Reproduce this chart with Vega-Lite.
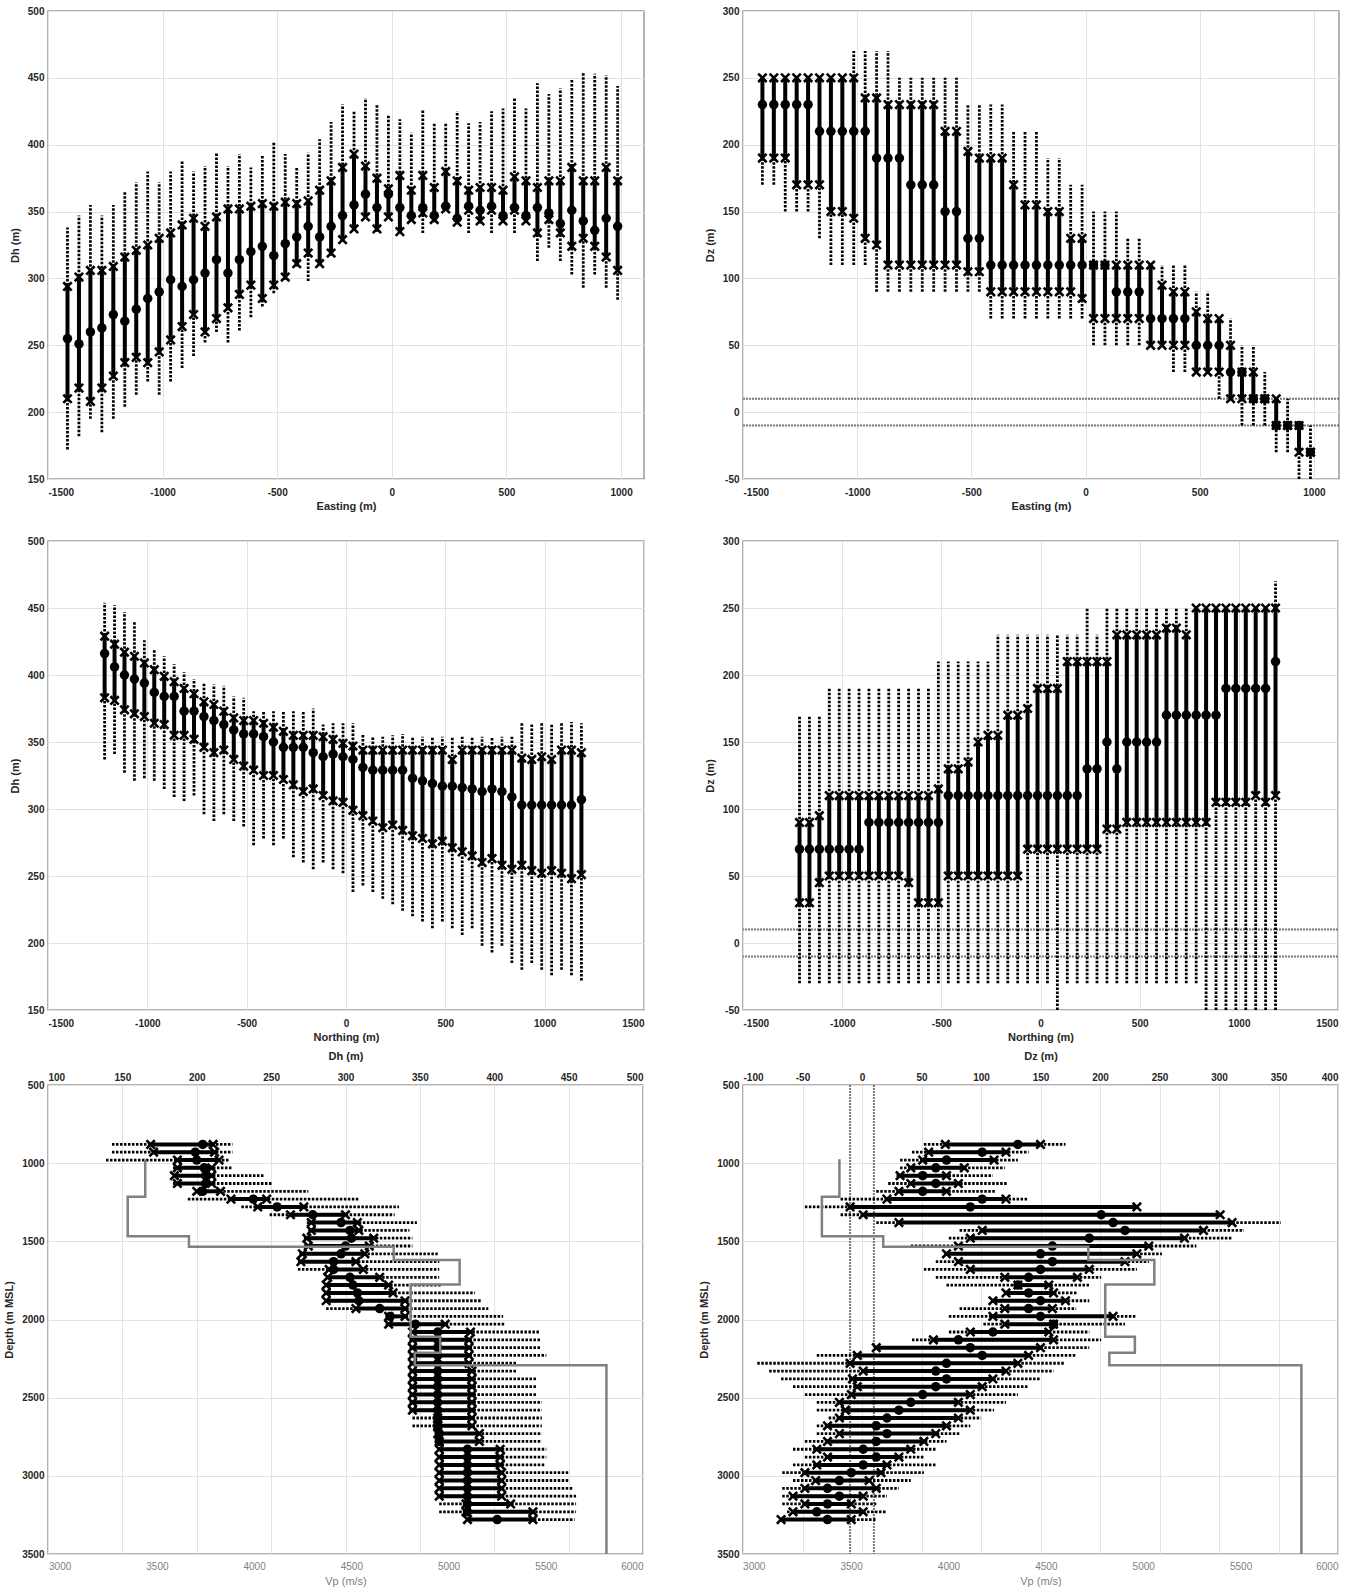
{
"$schema": "https://vega.github.io/schema/vega-lite/v6.json",
"autosize": {"type": "pad"},
"padding": {"left": 3, "top": 5, "right": 5, "bottom": 2},
"background": "white",
"config": {
  "font": "Liberation Sans",
  "view": {"stroke": "#999999", "strokeWidth": 1.5},
  "axis": {"labelFontSize": 10, "labelFontWeight": "bold", "labelColor": "#262626", "titleFontSize": 11, "titleFontWeight": "bold", "titleColor": "#262626", "grid": true, "gridColor": "#e2e2e2", "gridWidth": 1, "domain": false, "ticks": false, "labelExpr": "datum.value < 0 ? '-' + abs(datum.value) : '' + datum.value"},
  "axisX": {"labelPadding": 8, "titlePadding": 3},
  "axisY": {"labelPadding": 4, "titlePadding": 7}
},
"datasets": {
"p1": [
{"e":-1415,"oh":338,"ih":294,"c":255,"il":210,"ol":172},
{"e":-1365,"oh":347,"ih":301,"c":251,"il":218,"ol":182},
{"e":-1315,"oh":355,"ih":306,"c":260,"il":208,"ol":195},
{"e":-1265,"oh":347,"ih":306,"c":263,"il":218,"ol":185},
{"e":-1215,"oh":355,"ih":309,"c":273,"il":227,"ol":195},
{"e":-1165,"oh":365,"ih":316,"c":268,"il":237,"ol":204},
{"e":-1115,"oh":372,"ih":321,"c":277,"il":241,"ol":213},
{"e":-1065,"oh":380,"ih":325,"c":285,"il":237,"ol":223},
{"e":-1015,"oh":372,"ih":330,"c":290,"il":245,"ol":213},
{"e":-965,"oh":380,"ih":334,"c":299,"il":254,"ol":223},
{"e":-915,"oh":388,"ih":340,"c":294,"il":264,"ol":233},
{"e":-865,"oh":380,"ih":345,"c":299,"il":273,"ol":242},
{"e":-815,"oh":384,"ih":339,"c":304,"il":260,"ol":252},
{"e":-765,"oh":394,"ih":346,"c":314,"il":270,"ol":260},
{"e":-715,"oh":384,"ih":352,"c":304,"il":278,"ol":252},
{"e":-665,"oh":393,"ih":352,"c":314,"il":288,"ol":261},
{"e":-615,"oh":383,"ih":354,"c":320,"il":295,"ol":271},
{"e":-565,"oh":392,"ih":356,"c":324,"il":285,"ol":279},
{"e":-515,"oh":402,"ih":354,"c":317,"il":295,"ol":289},
{"e":-465,"oh":393,"ih":357,"c":326,"il":301,"ol":299},
{"e":-415,"oh":383,"ih":356,"c":331,"il":311,"ol":309},
{"e":-365,"oh":394,"ih":358,"c":339,"il":319,"ol":298},
{"e":-315,"oh":404,"ih":366,"c":331,"il":311,"ol":310},
{"e":-265,"oh":417,"ih":373,"c":339,"il":319,"ol":317},
{"e":-215,"oh":430,"ih":383,"c":347,"il":329,"ol":328},
{"e":-165,"oh":425,"ih":393,"c":355,"il":337,"ol":336},
{"e":-115,"oh":435,"ih":384,"c":363,"il":346,"ol":345},
{"e":-65,"oh":430,"ih":375,"c":353,"il":337,"ol":335},
{"e":-15,"oh":422,"ih":367,"c":363,"il":346,"ol":345},
{"e":35,"oh":419,"ih":377,"c":353,"il":335,"ol":334},
{"e":85,"oh":409,"ih":366,"c":347,"il":344,"ol":343},
{"e":135,"oh":426,"ih":377,"c":353,"il":349,"ol":334},
{"e":185,"oh":416,"ih":368,"c":347,"il":344,"ol":342},
{"e":235,"oh":416,"ih":380,"c":354,"il":352,"ol":351},
{"e":285,"oh":425,"ih":373,"c":345,"il":342,"ol":341},
{"e":335,"oh":416,"ih":366,"c":354,"il":351,"ol":334},
{"e":385,"oh":417,"ih":368,"c":351,"il":343,"ol":341},
{"e":435,"oh":425,"ih":368,"c":354,"il":351,"ol":334},
{"e":485,"oh":427,"ih":366,"c":347,"il":343,"ol":342},
{"e":535,"oh":435,"ih":376,"c":353,"il":351,"ol":334},
{"e":585,"oh":427,"ih":373,"c":347,"il":343,"ol":342},
{"e":635,"oh":446,"ih":368,"c":353,"il":334,"ol":313},
{"e":685,"oh":438,"ih":373,"c":349,"il":344,"ol":323},
{"e":735,"oh":442,"ih":373,"c":341,"il":334,"ol":313},
{"e":785,"oh":449,"ih":383,"c":351,"il":324,"ol":303},
{"e":835,"oh":454,"ih":373,"c":343,"il":330,"ol":293},
{"e":885,"oh":453,"ih":373,"c":336,"il":324,"ol":303},
{"e":935,"oh":452,"ih":383,"c":345,"il":316,"ol":293},
{"e":985,"oh":444,"ih":373,"c":339,"il":306,"ol":284}
],
"p2": [
{"e":-1415,"oh":250,"ih":250,"c":230,"il":190,"ol":170},
{"e":-1365,"oh":250,"ih":250,"c":230,"il":190,"ol":170},
{"e":-1315,"oh":250,"ih":250,"c":230,"il":190,"ol":150},
{"e":-1265,"oh":250,"ih":250,"c":230,"il":170,"ol":150},
{"e":-1215,"oh":250,"ih":250,"c":230,"il":170,"ol":150},
{"e":-1165,"oh":250,"ih":250,"c":210,"il":170,"ol":130},
{"e":-1115,"oh":250,"ih":250,"c":210,"il":150,"ol":110},
{"e":-1065,"oh":250,"ih":250,"c":210,"il":150,"ol":110},
{"e":-1015,"oh":270,"ih":250,"c":210,"il":145,"ol":110},
{"e":-965,"oh":270,"ih":235,"c":210,"il":130,"ol":110},
{"e":-915,"oh":270,"ih":235,"c":190,"il":125,"ol":90},
{"e":-865,"oh":270,"ih":230,"c":190,"il":110,"ol":90},
{"e":-815,"oh":250,"ih":230,"c":190,"il":110,"ol":90},
{"e":-765,"oh":250,"ih":230,"c":170,"il":110,"ol":90},
{"e":-715,"oh":250,"ih":230,"c":170,"il":110,"ol":90},
{"e":-665,"oh":250,"ih":230,"c":170,"il":110,"ol":90},
{"e":-615,"oh":250,"ih":210,"c":150,"il":110,"ol":90},
{"e":-565,"oh":250,"ih":210,"c":150,"il":110,"ol":90},
{"e":-515,"oh":230,"ih":195,"c":130,"il":105,"ol":90},
{"e":-465,"oh":230,"ih":190,"c":130,"il":105,"ol":90},
{"e":-415,"oh":230,"ih":190,"c":110,"il":90,"ol":70},
{"e":-365,"oh":230,"ih":190,"c":110,"il":90,"ol":70},
{"e":-315,"oh":210,"ih":170,"c":110,"il":90,"ol":70},
{"e":-265,"oh":210,"ih":155,"c":110,"il":90,"ol":70},
{"e":-215,"oh":210,"ih":155,"c":110,"il":90,"ol":70},
{"e":-165,"oh":190,"ih":150,"c":110,"il":90,"ol":70},
{"e":-115,"oh":190,"ih":150,"c":110,"il":90,"ol":70},
{"e":-65,"oh":170,"ih":130,"c":110,"il":90,"ol":70},
{"e":-15,"oh":170,"ih":130,"c":110,"il":85,"ol":70},
{"e":35,"oh":150,"ih":110,"c":110,"il":70,"ol":50},
{"e":85,"oh":150,"ih":110,"c":110,"il":70,"ol":50},
{"e":135,"oh":150,"ih":110,"c":90,"il":70,"ol":50},
{"e":185,"oh":130,"ih":110,"c":90,"il":70,"ol":50},
{"e":235,"oh":130,"ih":110,"c":90,"il":70,"ol":50},
{"e":285,"oh":110,"ih":110,"c":70,"il":50,"ol":50},
{"e":335,"oh":110,"ih":95,"c":70,"il":50,"ol":50},
{"e":385,"oh":110,"ih":90,"c":70,"il":50,"ol":30},
{"e":435,"oh":110,"ih":90,"c":70,"il":50,"ol":30},
{"e":485,"oh":90,"ih":75,"c":50,"il":30,"ol":30},
{"e":535,"oh":90,"ih":70,"c":50,"il":30,"ol":30},
{"e":585,"oh":70,"ih":70,"c":50,"il":30,"ol":10},
{"e":635,"oh":70,"ih":50,"c":30,"il":10,"ol":10},
{"e":685,"oh":50,"ih":30,"c":30,"il":10,"ol":-10},
{"e":735,"oh":50,"ih":30,"c":10,"il":10,"ol":-10},
{"e":785,"oh":30,"ih":10,"c":10,"il":10,"ol":-10},
{"e":835,"oh":10,"ih":10,"c":-10,"il":-10,"ol":-30},
{"e":885,"oh":10,"ih":-10,"c":-10,"il":-10,"ol":-30},
{"e":935,"oh":-10,"ih":-10,"c":-10,"il":-30,"ol":-50},
{"e":985,"oh":-10,"ih":-30,"c":-30,"il":-30,"ol":-50}
],
"p3": [
{"e":-1215,"oh":454,"ih":429,"c":416,"il":383,"ol":337},
{"e":-1165,"oh":452,"ih":423,"c":406,"il":381,"ol":341},
{"e":-1115,"oh":447,"ih":417,"c":400,"il":374,"ol":327},
{"e":-1065,"oh":440,"ih":414,"c":397,"il":371,"ol":321},
{"e":-1015,"oh":426,"ih":409,"c":394,"il":369,"ol":323},
{"e":-965,"oh":419,"ih":404,"c":387,"il":364,"ol":321},
{"e":-915,"oh":414,"ih":399,"c":384,"il":363,"ol":315},
{"e":-865,"oh":408,"ih":395,"c":384,"il":355,"ol":309},
{"e":-815,"oh":402,"ih":390,"c":373,"il":355,"ol":306},
{"e":-765,"oh":397,"ih":386,"c":373,"il":352,"ol":310},
{"e":-715,"oh":394,"ih":380,"c":369,"il":346,"ol":296},
{"e":-665,"oh":393,"ih":378,"c":366,"il":342,"ol":291},
{"e":-615,"oh":392,"ih":373,"c":363,"il":344,"ol":296},
{"e":-565,"oh":384,"ih":368,"c":359,"il":337,"ol":291},
{"e":-515,"oh":383,"ih":366,"c":356,"il":332,"ol":287},
{"e":-465,"oh":373,"ih":366,"c":356,"il":329,"ol":273},
{"e":-415,"oh":373,"ih":364,"c":354,"il":325,"ol":278},
{"e":-365,"oh":373,"ih":361,"c":350,"il":325,"ol":273},
{"e":-315,"oh":373,"ih":358,"c":346,"il":322,"ol":278},
{"e":-265,"oh":373,"ih":355,"c":346,"il":318,"ol":264},
{"e":-215,"oh":373,"ih":355,"c":346,"il":313,"ol":260},
{"e":-165,"oh":375,"ih":355,"c":342,"il":315,"ol":255},
{"e":-115,"oh":363,"ih":354,"c":339,"il":310,"ol":260},
{"e":-65,"oh":364,"ih":352,"c":341,"il":306,"ol":255},
{"e":-15,"oh":364,"ih":349,"c":339,"il":305,"ol":252},
{"e":35,"oh":364,"ih":347,"c":337,"il":299,"ol":238},
{"e":85,"oh":356,"ih":344,"c":331,"il":295,"ol":243},
{"e":135,"oh":354,"ih":344,"c":329,"il":291,"ol":238},
{"e":185,"oh":354,"ih":344,"c":329,"il":286,"ol":233},
{"e":235,"oh":355,"ih":344,"c":329,"il":288,"ol":229},
{"e":285,"oh":356,"ih":344,"c":329,"il":284,"ol":224},
{"e":335,"oh":354,"ih":344,"c":323,"il":280,"ol":220},
{"e":385,"oh":354,"ih":344,"c":321,"il":278,"ol":216},
{"e":435,"oh":354,"ih":344,"c":319,"il":274,"ol":211},
{"e":485,"oh":354,"ih":344,"c":317,"il":276,"ol":216},
{"e":535,"oh":354,"ih":337,"c":317,"il":271,"ol":211},
{"e":585,"oh":354,"ih":344,"c":316,"il":268,"ol":206},
{"e":635,"oh":354,"ih":344,"c":315,"il":265,"ol":211},
{"e":685,"oh":354,"ih":344,"c":313,"il":260,"ol":198},
{"e":735,"oh":354,"ih":344,"c":315,"il":263,"ol":193},
{"e":785,"oh":354,"ih":344,"c":313,"il":258,"ol":198},
{"e":835,"oh":354,"ih":344,"c":309,"il":255,"ol":185},
{"e":885,"oh":364,"ih":338,"c":303,"il":258,"ol":180},
{"e":935,"oh":364,"ih":337,"c":303,"il":254,"ol":185},
{"e":985,"oh":364,"ih":339,"c":303,"il":252,"ol":180},
{"e":1035,"oh":364,"ih":337,"c":303,"il":254,"ol":176},
{"e":1085,"oh":364,"ih":344,"c":303,"il":252,"ol":180},
{"e":1135,"oh":365,"ih":344,"c":303,"il":248,"ol":176},
{"e":1185,"oh":364,"ih":342,"c":307,"il":251,"ol":172}
],
"p4": [
{"e":-1215,"oh":170,"ih":90,"c":70,"il":30,"ol":-30},
{"e":-1165,"oh":170,"ih":90,"c":70,"il":30,"ol":-30},
{"e":-1115,"oh":170,"ih":95,"c":70,"il":45,"ol":-30},
{"e":-1065,"oh":190,"ih":110,"c":70,"il":50,"ol":-30},
{"e":-1015,"oh":190,"ih":110,"c":70,"il":50,"ol":-30},
{"e":-965,"oh":190,"ih":110,"c":70,"il":50,"ol":-30},
{"e":-915,"oh":190,"ih":110,"c":70,"il":50,"ol":-30},
{"e":-865,"oh":190,"ih":110,"c":90,"il":50,"ol":-30},
{"e":-815,"oh":190,"ih":110,"c":90,"il":50,"ol":-30},
{"e":-765,"oh":190,"ih":110,"c":90,"il":50,"ol":-30},
{"e":-715,"oh":190,"ih":110,"c":90,"il":50,"ol":-30},
{"e":-665,"oh":190,"ih":110,"c":90,"il":45,"ol":-30},
{"e":-615,"oh":190,"ih":110,"c":90,"il":30,"ol":-30},
{"e":-565,"oh":190,"ih":110,"c":90,"il":30,"ol":-30},
{"e":-515,"oh":210,"ih":115,"c":90,"il":30,"ol":-30},
{"e":-465,"oh":210,"ih":130,"c":110,"il":50,"ol":-30},
{"e":-415,"oh":210,"ih":130,"c":110,"il":50,"ol":-30},
{"e":-365,"oh":210,"ih":135,"c":110,"il":50,"ol":-30},
{"e":-315,"oh":210,"ih":150,"c":110,"il":50,"ol":-30},
{"e":-265,"oh":210,"ih":155,"c":110,"il":50,"ol":-30},
{"e":-215,"oh":230,"ih":155,"c":110,"il":50,"ol":-30},
{"e":-165,"oh":230,"ih":170,"c":110,"il":50,"ol":-30},
{"e":-115,"oh":230,"ih":170,"c":110,"il":50,"ol":-30},
{"e":-65,"oh":230,"ih":175,"c":110,"il":70,"ol":-30},
{"e":-15,"oh":230,"ih":190,"c":110,"il":70,"ol":-30},
{"e":35,"oh":230,"ih":190,"c":110,"il":70,"ol":-30},
{"e":85,"oh":230,"ih":190,"c":110,"il":70,"ol":-50},
{"e":135,"oh":230,"ih":210,"c":110,"il":70,"ol":-30},
{"e":185,"oh":230,"ih":210,"c":110,"il":70,"ol":-30},
{"e":235,"oh":250,"ih":210,"c":130,"il":70,"ol":-30},
{"e":285,"oh":230,"ih":210,"c":130,"il":70,"ol":-30},
{"e":335,"oh":250,"ih":210,"c":150,"il":85,"ol":-30},
{"e":385,"oh":250,"ih":230,"c":130,"il":85,"ol":-30},
{"e":435,"oh":250,"ih":230,"c":150,"il":90,"ol":-30},
{"e":485,"oh":250,"ih":230,"c":150,"il":90,"ol":-30},
{"e":535,"oh":250,"ih":230,"c":150,"il":90,"ol":-30},
{"e":585,"oh":250,"ih":230,"c":150,"il":90,"ol":-30},
{"e":635,"oh":250,"ih":235,"c":170,"il":90,"ol":-30},
{"e":685,"oh":250,"ih":235,"c":170,"il":90,"ol":-30},
{"e":735,"oh":250,"ih":230,"c":170,"il":90,"ol":-30},
{"e":785,"oh":250,"ih":250,"c":170,"il":90,"ol":-30},
{"e":835,"oh":250,"ih":250,"c":170,"il":90,"ol":-50},
{"e":885,"oh":250,"ih":250,"c":170,"il":105,"ol":-50},
{"e":935,"oh":250,"ih":250,"c":190,"il":105,"ol":-50},
{"e":985,"oh":250,"ih":250,"c":190,"il":105,"ol":-50},
{"e":1035,"oh":250,"ih":250,"c":190,"il":105,"ol":-50},
{"e":1085,"oh":250,"ih":250,"c":190,"il":110,"ol":-50},
{"e":1135,"oh":250,"ih":250,"c":190,"il":105,"ol":-50},
{"e":1185,"oh":270,"ih":250,"c":210,"il":110,"ol":-50}
],
"p5": [
{"d":880,"ol":143,"il":169,"c":204,"ih":211,"oh":224},
{"d":930,"ol":143,"il":171,"c":199,"ih":212,"oh":224},
{"d":980,"ol":139,"il":187,"c":200,"ih":215,"oh":222},
{"d":1030,"ol":184,"il":187,"c":205,"ih":210,"oh":224},
{"d":1080,"ol":184,"il":185,"c":206,"ih":210,"oh":245},
{"d":1130,"ol":184,"il":187,"c":206,"ih":210,"oh":251},
{"d":1180,"ol":199,"il":200,"c":204,"ih":216,"oh":275},
{"d":1230,"ol":194,"il":223,"c":238,"ih":247,"oh":309},
{"d":1280,"ol":230,"il":241,"c":254,"ih":272,"oh":336},
{"d":1330,"ol":249,"il":263,"c":278,"ih":300,"oh":333},
{"d":1380,"ol":274,"il":277,"c":297,"ih":308,"oh":348},
{"d":1430,"ol":275,"il":277,"c":303,"ih":309,"oh":343},
{"d":1480,"ol":272,"il":274,"c":304,"ih":319,"oh":345},
{"d":1530,"ol":272,"il":275,"c":300,"ih":316,"oh":345},
{"d":1580,"ol":269,"il":271,"c":297,"ih":313,"oh":362},
{"d":1630,"ol":268,"il":270,"c":292,"ih":307,"oh":363},
{"d":1680,"ol":268,"il":289,"c":292,"ih":312,"oh":363},
{"d":1730,"ol":287,"il":288,"c":303,"ih":323,"oh":363},
{"d":1780,"ol":287,"il":287,"c":305,"ih":329,"oh":365},
{"d":1830,"ol":287,"il":287,"c":308,"ih":332,"oh":387},
{"d":1880,"ol":287,"il":287,"c":309,"ih":340,"oh":391},
{"d":1930,"ol":287,"il":307,"c":323,"ih":340,"oh":396},
{"d":1980,"ol":327,"il":329,"c":330,"ih":340,"oh":406},
{"d":2030,"ol":327,"il":329,"c":347,"ih":367,"oh":407},
{"d":2080,"ol":345,"il":345,"c":362,"ih":384,"oh":431},
{"d":2130,"ol":343,"il":345,"c":362,"ih":383,"oh":431},
{"d":2180,"ol":343,"il":345,"c":362,"ih":383,"oh":431},
{"d":2230,"ol":343,"il":345,"c":362,"ih":383,"oh":435},
{"d":2280,"ol":343,"il":345,"c":362,"ih":383,"oh":415},
{"d":2330,"ol":343,"il":345,"c":362,"ih":385,"oh":415},
{"d":2380,"ol":343,"il":345,"c":362,"ih":385,"oh":429},
{"d":2430,"ol":343,"il":345,"c":362,"ih":385,"oh":429},
{"d":2480,"ol":343,"il":345,"c":362,"ih":385,"oh":429},
{"d":2530,"ol":343,"il":345,"c":362,"ih":385,"oh":432},
{"d":2580,"ol":343,"il":345,"c":362,"ih":385,"oh":432},
{"d":2630,"ol":345,"il":362,"c":362,"ih":385,"oh":432},
{"d":2680,"ol":345,"il":362,"c":362,"ih":385,"oh":432},
{"d":2730,"ol":362,"il":362,"c":363,"ih":390,"oh":432},
{"d":2780,"ol":362,"il":363,"c":363,"ih":390,"oh":432},
{"d":2830,"ol":362,"il":363,"c":382,"ih":404,"oh":435},
{"d":2880,"ol":362,"il":363,"c":382,"ih":404,"oh":435},
{"d":2930,"ol":362,"il":363,"c":382,"ih":404,"oh":434},
{"d":2980,"ol":362,"il":363,"c":382,"ih":405,"oh":450},
{"d":3030,"ol":362,"il":363,"c":382,"ih":405,"oh":450},
{"d":3080,"ol":362,"il":363,"c":382,"ih":405,"oh":453},
{"d":3130,"ol":362,"il":363,"c":382,"ih":405,"oh":455},
{"d":3180,"ol":363,"il":381,"c":382,"ih":411,"oh":455},
{"d":3230,"ol":363,"il":381,"c":382,"ih":426,"oh":455},
{"d":3280,"ol":381,"il":382,"c":402,"ih":426,"oh":454}
],
"p6": [
{"d":880,"ol":52,"il":70,"c":131,"ih":150,"oh":171},
{"d":930,"ol":42,"il":56,"c":101,"ih":121,"oh":140},
{"d":980,"ol":32,"il":51,"c":71,"ih":111,"oh":131},
{"d":1030,"ol":32,"il":41,"c":62,"ih":86,"oh":120},
{"d":1080,"ol":29,"il":32,"c":51,"ih":71,"oh":110},
{"d":1130,"ol":22,"il":41,"c":62,"ih":81,"oh":122},
{"d":1180,"ol":12,"il":31,"c":51,"ih":71,"oh":112},
{"d":1230,"ol":-18,"il":21,"c":101,"ih":121,"oh":140},
{"d":1280,"ol":-48,"il":-10,"c":91,"ih":231,"oh":231},
{"d":1330,"ol":-18,"il":1,"c":201,"ih":301,"oh":301},
{"d":1380,"ol":12,"il":31,"c":211,"ih":311,"oh":352},
{"d":1430,"ol":82,"il":101,"c":221,"ih":287,"oh":321},
{"d":1480,"ol":73,"il":91,"c":191,"ih":271,"oh":311},
{"d":1530,"ol":41,"il":81,"c":160,"ih":241,"oh":281},
{"d":1580,"ol":69,"il":71,"c":150,"ih":231,"oh":252},
{"d":1630,"ol":62,"il":81,"c":160,"ih":221,"oh":241},
{"d":1680,"ol":52,"il":91,"c":150,"ih":191,"oh":231},
{"d":1730,"ol":62,"il":120,"c":140,"ih":181,"oh":201},
{"d":1780,"ol":71,"il":131,"c":131,"ih":157,"oh":191},
{"d":1830,"ol":121,"il":121,"c":140,"ih":161,"oh":181},
{"d":1880,"ol":109,"il":110,"c":150,"ih":171,"oh":191},
{"d":1930,"ol":82,"il":120,"c":140,"ih":160,"oh":180},
{"d":1980,"ol":73,"il":110,"c":150,"ih":211,"oh":231},
{"d":2030,"ol":102,"il":120,"c":161,"ih":161,"oh":221},
{"d":2080,"ol":73,"il":91,"c":110,"ih":157,"oh":191},
{"d":2130,"ol":42,"il":60,"c":81,"ih":161,"oh":201},
{"d":2180,"ol":12,"il":12,"c":91,"ih":150,"oh":191},
{"d":2230,"ol":-38,"il":-4,"c":101,"ih":140,"oh":180},
{"d":2280,"ol":-88,"il":-10,"c":71,"ih":131,"oh":170},
{"d":2330,"ol":-78,"il":1,"c":62,"ih":121,"oh":161},
{"d":2380,"ol":-68,"il":-8,"c":71,"ih":110,"oh":150},
{"d":2430,"ol":-58,"il":-4,"c":62,"ih":101,"oh":140},
{"d":2480,"ol":-48,"il":-9,"c":51,"ih":91,"oh":131},
{"d":2530,"ol":-38,"il":-19,"c":41,"ih":81,"oh":121},
{"d":2580,"ol":-38,"il":-14,"c":31,"ih":91,"oh":111},
{"d":2630,"ol":-28,"il":-19,"c":21,"ih":81,"oh":100},
{"d":2680,"ol":-38,"il":-29,"c":12,"ih":71,"oh":91},
{"d":2730,"ol":-38,"il":-19,"c":21,"ih":62,"oh":82},
{"d":2780,"ol":-48,"il":-29,"c":12,"ih":52,"oh":71},
{"d":2830,"ol":-58,"il":-38,"c":1,"ih":41,"oh":62},
{"d":2880,"ol":-48,"il":-29,"c":12,"ih":31,"oh":52},
{"d":2930,"ol":-58,"il":-38,"c":1,"ih":21,"oh":62},
{"d":2980,"ol":-67,"il":-48,"c":-9,"ih":16,"oh":52},
{"d":3030,"ol":-58,"il":-39,"c":-19,"ih":6,"oh":41},
{"d":3080,"ol":-67,"il":-48,"c":-29,"ih":12,"oh":31},
{"d":3130,"ol":-67,"il":-58,"c":-19,"ih":1,"oh":21},
{"d":3180,"ol":-67,"il":-48,"c":-29,"ih":-9,"oh":12},
{"d":3230,"ol":-63,"il":-58,"c":-38,"ih":1,"oh":21},
{"d":3280,"ol":-68,"il":-68,"c":-29,"ih":-9,"oh":12}
],
"vp": [
{"i":0,"d":975,"vp":3440},{"i":1,"d":1215,"vp":3440},{"i":2,"d":1215,"vp":3350},{"i":3,"d":1468,"vp":3350},
{"i":4,"d":1468,"vp":3665},{"i":5,"d":1534,"vp":3665},{"i":6,"d":1534,"vp":4718},{"i":7,"d":1620,"vp":4718},
{"i":8,"d":1620,"vp":5057},{"i":9,"d":1776,"vp":5057},{"i":10,"d":1776,"vp":4805},{"i":11,"d":2110,"vp":4805},
{"i":12,"d":2110,"vp":4957},{"i":13,"d":2212,"vp":4957},{"i":14,"d":2212,"vp":4826},{"i":15,"d":2293,"vp":4826},
{"i":16,"d":2293,"vp":5812},{"i":17,"d":3500,"vp":5812}
],
"pm": [{"v":10},{"v":-10}],
"sp": [{"a":1}]
},
"bounds": "flush",
"spacing": 0,
"columns": 3,
"align": "each",
"concat": [
   {"width": 596, "height": 468, "data": {"name": "p1"}, "layer": [
    {"mark": {"type": "rule", "strokeDash": [2.5,1.5], "strokeWidth": 2.8, "color": "#000", "clip": true},
     "encoding": {"x": {"field": "e", "type": "quantitative", "scale": {"domain": [-1500,1100], "nice": false, "zero": false}, "axis": {"values": [-1500,-1000,-500,0,500,1000], "title": "Easting (m)"}},
      "y": {"field": "ol", "type": "quantitative", "scale": {"domain": [150,500], "nice": false, "zero": false}, "axis": {"values": [150,200,250,300,350,400,450,500], "title": "Dh (m)"}}, "y2": {"field": "oh"}}},
    {"mark": {"type": "rule", "strokeWidth": 4, "color": "#000", "clip": true},
     "encoding": {"x": {"field": "e", "type": "quantitative", "scale": {"domain": [-1500,1100], "nice": false, "zero": false}}, "y": {"field": "il", "type": "quantitative", "scale": {"domain": [150,500], "nice": false, "zero": false}}, "y2": {"field": "ih"}}},
    {"transform": [{"fold": ["il","ih"], "as": ["k","v"]}], "mark": {"type": "point", "shape": "M-1,-1L1,1M-1,1L1,-1", "size": 70, "strokeWidth": 2.6, "filled": false, "color": "#000", "opacity": 1, "clip": true},
     "encoding": {"x": {"field": "e", "type": "quantitative", "scale": {"domain": [-1500,1100], "nice": false, "zero": false}}, "y": {"field": "v", "type": "quantitative", "scale": {"domain": [150,500], "nice": false, "zero": false}}}},
    {"mark": {"type": "circle", "size": 90, "color": "#000", "opacity": 1, "clip": true},
     "encoding": {"x": {"field": "e", "type": "quantitative", "scale": {"domain": [-1500,1100], "nice": false, "zero": false}}, "y": {"field": "c", "type": "quantitative", "scale": {"domain": [150,500], "nice": false, "zero": false}}}}
   ]},
   {"width": 99, "height": 1, "data": {"name": "sp"}, "mark": {"type": "point", "opacity": 0}, "view": {"stroke": null}},
   {"width": 596, "height": 468, "data": {"name": "p2"}, "layer": [
    {"data": {"name": "pm"}, "mark": {"type": "rule", "strokeDash": [2,1], "strokeWidth": 2, "color": "#777"},
     "encoding": {"y": {"field": "v", "type": "quantitative", "scale": {"domain": [-50,300], "nice": false, "zero": false}, "axis": {"values": [-50,0,50,100,150,200,250,300], "title": "Dz (m)"}}}},
    {"mark": {"type": "rule", "strokeDash": [2.5,1.5], "strokeWidth": 2.8, "color": "#000", "clip": true},
     "encoding": {"x": {"field": "e", "type": "quantitative", "scale": {"domain": [-1500,1110], "nice": false, "zero": false}, "axis": {"values": [-1500,-1000,-500,0,500,1000], "title": "Easting (m)"}},
      "y": {"field": "ol", "type": "quantitative", "scale": {"domain": [-50,300], "nice": false, "zero": false}}, "y2": {"field": "oh"}}},
    {"mark": {"type": "rule", "strokeWidth": 4, "color": "#000", "clip": true},
     "encoding": {"x": {"field": "e", "type": "quantitative", "scale": {"domain": [-1500,1110], "nice": false, "zero": false}}, "y": {"field": "il", "type": "quantitative", "scale": {"domain": [-50,300], "nice": false, "zero": false}}, "y2": {"field": "ih"}}},
    {"transform": [{"fold": ["il","ih"], "as": ["k","v"]}], "mark": {"type": "point", "shape": "M-1,-1L1,1M-1,1L1,-1", "size": 70, "strokeWidth": 2.6, "filled": false, "color": "#000", "opacity": 1, "clip": true},
     "encoding": {"x": {"field": "e", "type": "quantitative", "scale": {"domain": [-1500,1110], "nice": false, "zero": false}}, "y": {"field": "v", "type": "quantitative", "scale": {"domain": [-50,300], "nice": false, "zero": false}}}},
    {"mark": {"type": "circle", "size": 90, "color": "#000", "opacity": 1, "clip": true},
     "encoding": {"x": {"field": "e", "type": "quantitative", "scale": {"domain": [-1500,1110], "nice": false, "zero": false}}, "y": {"field": "c", "type": "quantitative", "scale": {"domain": [-50,300], "nice": false, "zero": false}}}}
   ]},
   {"width": 1, "height": 62, "data": {"name": "sp"}, "mark": {"type": "point", "opacity": 0}, "view": {"stroke": null}},
   {"width": 1, "height": 62, "data": {"name": "sp"}, "mark": {"type": "point", "opacity": 0}, "view": {"stroke": null}},
   {"width": 1, "height": 62, "data": {"name": "sp"}, "mark": {"type": "point", "opacity": 0}, "view": {"stroke": null}},
   {"width": 596, "height": 469, "data": {"name": "p3"}, "layer": [
    {"mark": {"type": "rule", "strokeDash": [2.5,1.5], "strokeWidth": 2.8, "color": "#000", "clip": true},
     "encoding": {"x": {"field": "e", "type": "quantitative", "scale": {"domain": [-1500,1500], "nice": false, "zero": false}, "axis": {"values": [-1500,-1000,-500,0,500,1000,1500], "title": "Northing (m)"}},
      "y": {"field": "ol", "type": "quantitative", "scale": {"domain": [150,500], "nice": false, "zero": false}, "axis": {"values": [150,200,250,300,350,400,450,500], "title": "Dh (m)"}}, "y2": {"field": "oh"}}},
    {"mark": {"type": "rule", "strokeWidth": 4, "color": "#000", "clip": true},
     "encoding": {"x": {"field": "e", "type": "quantitative", "scale": {"domain": [-1500,1500], "nice": false, "zero": false}}, "y": {"field": "il", "type": "quantitative", "scale": {"domain": [150,500], "nice": false, "zero": false}}, "y2": {"field": "ih"}}},
    {"transform": [{"fold": ["il","ih"], "as": ["k","v"]}], "mark": {"type": "point", "shape": "M-1,-1L1,1M-1,1L1,-1", "size": 70, "strokeWidth": 2.6, "filled": false, "color": "#000", "opacity": 1, "clip": true},
     "encoding": {"x": {"field": "e", "type": "quantitative", "scale": {"domain": [-1500,1500], "nice": false, "zero": false}}, "y": {"field": "v", "type": "quantitative", "scale": {"domain": [150,500], "nice": false, "zero": false}}}},
    {"mark": {"type": "circle", "size": 90, "color": "#000", "opacity": 1, "clip": true},
     "encoding": {"x": {"field": "e", "type": "quantitative", "scale": {"domain": [-1500,1500], "nice": false, "zero": false}}, "y": {"field": "c", "type": "quantitative", "scale": {"domain": [150,500], "nice": false, "zero": false}}}}
   ]},
   {"width": 99, "height": 1, "data": {"name": "sp"}, "mark": {"type": "point", "opacity": 0}, "view": {"stroke": null}},
   {"width": 595, "height": 469, "data": {"name": "p4"}, "layer": [
    {"data": {"name": "pm"}, "mark": {"type": "rule", "strokeDash": [2,1], "strokeWidth": 2, "color": "#777"},
     "encoding": {"y": {"field": "v", "type": "quantitative", "scale": {"domain": [-50,300], "nice": false, "zero": false}, "axis": {"values": [-50,0,50,100,150,200,250,300], "title": "Dz (m)"}}}},
    {"mark": {"type": "rule", "strokeDash": [2.5,1.5], "strokeWidth": 2.8, "color": "#000", "clip": true},
     "encoding": {"x": {"field": "e", "type": "quantitative", "scale": {"domain": [-1500,1500], "nice": false, "zero": false}, "axis": {"values": [-1500,-1000,-500,0,500,1000,1500], "title": "Northing (m)"}},
      "y": {"field": "ol", "type": "quantitative", "scale": {"domain": [-50,300], "nice": false, "zero": false}}, "y2": {"field": "oh"}}},
    {"mark": {"type": "rule", "strokeWidth": 4, "color": "#000", "clip": true},
     "encoding": {"x": {"field": "e", "type": "quantitative", "scale": {"domain": [-1500,1500], "nice": false, "zero": false}}, "y": {"field": "il", "type": "quantitative", "scale": {"domain": [-50,300], "nice": false, "zero": false}}, "y2": {"field": "ih"}}},
    {"transform": [{"fold": ["il","ih"], "as": ["k","v"]}], "mark": {"type": "point", "shape": "M-1,-1L1,1M-1,1L1,-1", "size": 70, "strokeWidth": 2.6, "filled": false, "color": "#000", "opacity": 1, "clip": true},
     "encoding": {"x": {"field": "e", "type": "quantitative", "scale": {"domain": [-1500,1500], "nice": false, "zero": false}}, "y": {"field": "v", "type": "quantitative", "scale": {"domain": [-50,300], "nice": false, "zero": false}}}},
    {"mark": {"type": "circle", "size": 90, "color": "#000", "opacity": 1, "clip": true},
     "encoding": {"x": {"field": "e", "type": "quantitative", "scale": {"domain": [-1500,1500], "nice": false, "zero": false}}, "y": {"field": "c", "type": "quantitative", "scale": {"domain": [-50,300], "nice": false, "zero": false}}}}
   ]},
   {"width": 1, "height": 75, "data": {"name": "sp"}, "mark": {"type": "point", "opacity": 0}, "view": {"stroke": null}},
   {"width": 1, "height": 75, "data": {"name": "sp"}, "mark": {"type": "point", "opacity": 0}, "view": {"stroke": null}},
   {"width": 1, "height": 75, "data": {"name": "sp"}, "mark": {"type": "point", "opacity": 0}, "view": {"stroke": null}},
   {"width": 595, "height": 469, "resolve": {"scale": {"x": "independent"}}, "layer": [
    {"data": {"name": "p5"}, "layer": [
     {"mark": {"type": "rule", "strokeDash": [2.5,1.5], "strokeWidth": 2.8, "color": "#000", "clip": true},
      "encoding": {"x": {"field": "ol", "type": "quantitative", "scale": {"domain": [100,500], "nice": false, "zero": false}, "axis": {"orient": "top", "values": [100,150,200,250,300,350,400,450,500], "title": "Dh (m)", "labelPadding": 3, "titlePadding": 11}}, "x2": {"field": "oh"},
       "y": {"field": "d", "type": "quantitative", "scale": {"domain": [500,3500], "nice": false, "zero": false, "reverse": true}, "axis": {"values": [500,1000,1500,2000,2500,3000,3500], "title": "Depth (m MSL)"}}}},
     {"mark": {"type": "rule", "strokeWidth": 4, "color": "#000", "clip": true},
      "encoding": {"x": {"field": "il", "type": "quantitative", "scale": {"domain": [100,500], "nice": false, "zero": false}}, "x2": {"field": "ih"}, "y": {"field": "d", "type": "quantitative", "scale": {"domain": [500,3500], "nice": false, "zero": false, "reverse": true}}}},
     {"transform": [{"fold": ["il","ih"], "as": ["k","v"]}], "mark": {"type": "point", "shape": "M-1,-1L1,1M-1,1L1,-1", "size": 70, "strokeWidth": 2.6, "filled": false, "color": "#000", "opacity": 1, "clip": true},
      "encoding": {"x": {"field": "v", "type": "quantitative", "scale": {"domain": [100,500], "nice": false, "zero": false}}, "y": {"field": "d", "type": "quantitative", "scale": {"domain": [500,3500], "nice": false, "zero": false, "reverse": true}}}},
     {"mark": {"type": "circle", "size": 90, "color": "#000", "opacity": 1, "clip": true},
      "encoding": {"x": {"field": "c", "type": "quantitative", "scale": {"domain": [100,500], "nice": false, "zero": false}}, "y": {"field": "d", "type": "quantitative", "scale": {"domain": [500,3500], "nice": false, "zero": false, "reverse": true}}}}
    ]},
    {"data": {"name": "vp"}, "mark": {"type": "line", "color": "#808080", "strokeWidth": 2.5, "clip": true},
     "encoding": {"x": {"field": "vp", "type": "quantitative", "scale": {"domain": [2940,6000], "nice": false, "zero": false}, "axis": {"orient": "bottom", "values": [3000,3500,4000,4500,5000,5500,6000], "title": "Vp (m/s)", "grid": false, "labelColor": "#808080", "titleColor": "#808080", "labelFontWeight": "normal", "titleFontWeight": "normal", "labelPadding": 7, "titlePadding": 4}},
      "y": {"field": "d", "type": "quantitative", "scale": {"domain": [500,3500], "nice": false, "zero": false, "reverse": true}}, "order": {"field": "i", "type": "quantitative"}}}
   ]},
   {"width": 99, "height": 1, "data": {"name": "sp"}, "mark": {"type": "point", "opacity": 0}, "view": {"stroke": null}},
   {"width": 595, "height": 469, "resolve": {"scale": {"x": "independent"}}, "layer": [
    {"data": {"name": "p6"}, "layer": [
     {"data": {"name": "pm"}, "mark": {"type": "rule", "strokeDash": [2,1], "strokeWidth": 2, "color": "#777"},
      "encoding": {"x": {"field": "v", "type": "quantitative", "scale": {"domain": [-100,400], "nice": false, "zero": false}, "axis": {"orient": "top", "values": [-100,-50,0,50,100,150,200,250,300,350,400], "title": "Dz (m)", "labelPadding": 3, "titlePadding": 11}}}},
     {"mark": {"type": "rule", "strokeDash": [2.5,1.5], "strokeWidth": 2.8, "color": "#000", "clip": true},
      "encoding": {"x": {"field": "ol", "type": "quantitative", "scale": {"domain": [-100,400], "nice": false, "zero": false}}, "x2": {"field": "oh"},
       "y": {"field": "d", "type": "quantitative", "scale": {"domain": [500,3500], "nice": false, "zero": false, "reverse": true}, "axis": {"values": [500,1000,1500,2000,2500,3000,3500], "title": "Depth (m MSL)"}}}},
     {"mark": {"type": "rule", "strokeWidth": 4, "color": "#000", "clip": true},
      "encoding": {"x": {"field": "il", "type": "quantitative", "scale": {"domain": [-100,400], "nice": false, "zero": false}}, "x2": {"field": "ih"}, "y": {"field": "d", "type": "quantitative", "scale": {"domain": [500,3500], "nice": false, "zero": false, "reverse": true}}}},
     {"transform": [{"fold": ["il","ih"], "as": ["k","v"]}], "mark": {"type": "point", "shape": "M-1,-1L1,1M-1,1L1,-1", "size": 70, "strokeWidth": 2.6, "filled": false, "color": "#000", "opacity": 1, "clip": true},
      "encoding": {"x": {"field": "v", "type": "quantitative", "scale": {"domain": [-100,400], "nice": false, "zero": false}}, "y": {"field": "d", "type": "quantitative", "scale": {"domain": [500,3500], "nice": false, "zero": false, "reverse": true}}}},
     {"mark": {"type": "circle", "size": 90, "color": "#000", "opacity": 1, "clip": true},
      "encoding": {"x": {"field": "c", "type": "quantitative", "scale": {"domain": [-100,400], "nice": false, "zero": false}}, "y": {"field": "d", "type": "quantitative", "scale": {"domain": [500,3500], "nice": false, "zero": false, "reverse": true}}}}
    ]},
    {"data": {"name": "vp"}, "mark": {"type": "line", "color": "#808080", "strokeWidth": 2.5, "clip": true},
     "encoding": {"x": {"field": "vp", "type": "quantitative", "scale": {"domain": [2945,6000], "nice": false, "zero": false}, "axis": {"orient": "bottom", "values": [3000,3500,4000,4500,5000,5500,6000], "title": "Vp (m/s)", "grid": false, "labelColor": "#808080", "titleColor": "#808080", "labelFontWeight": "normal", "titleFontWeight": "normal", "labelPadding": 7, "titlePadding": 4}},
      "y": {"field": "d", "type": "quantitative", "scale": {"domain": [500,3500], "nice": false, "zero": false, "reverse": true}}, "order": {"field": "i", "type": "quantitative"}}}
   ]}
]
}
